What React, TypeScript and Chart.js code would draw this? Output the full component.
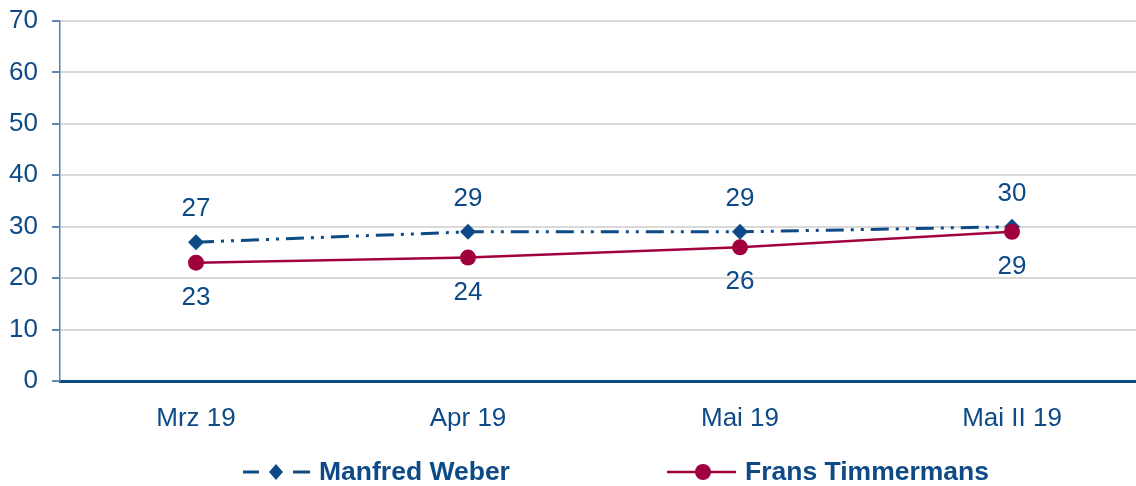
import React, { useEffect, useRef } from "react";
import { Chart, registerables } from "chart.js";

Chart.register(...registerables);

const categories = ["Mrz 19", "Apr 19", "Mai 19", "Mai II 19"];
const weberValues = [27, 29, 29, 30];
const timmermansValues = [23, 24, 26, 29];
const seriesNames = ["Manfred Weber", "Frans Timmermans"];
const yTicks = [0, 10, 20, 30, 40, 50, 60, 70];

const BLUE = "#0d4a86";
const RED = "#a1003f";
const FONT = "Arial, 'Liberation Sans', sans-serif";

const labelPlugin = {
  id: "valueLabels",
  afterDatasetsDraw(chart: any) {
    const ctx = chart.ctx;
    ctx.save();
    ctx.font = `26px ${FONT}`;
    ctx.fillStyle = BLUE;
    ctx.textAlign = "center";
    ctx.textBaseline = "middle";
    chart.data.datasets.forEach((ds: any, i: number) => {
      const meta = chart.getDatasetMeta(i);
      meta.data.forEach((pt: any, j: number) => {
        const off = i === 0 ? -33 : 35;
        ctx.fillText(String(ds.data[j]), pt.x, pt.y + off);
      });
    });
    ctx.restore();
  },
};

const legendPlugin = {
  id: "customLegend",
  afterDraw(chart: any) {
    const ctx = chart.ctx;
    const y = 472;
    ctx.save();
    // Weber
    ctx.strokeStyle = BLUE;
    ctx.lineWidth = 3;
    ctx.beginPath();
    ctx.moveTo(243, y);
    ctx.lineTo(259, y);
    ctx.moveTo(293, y);
    ctx.lineTo(310, y);
    ctx.stroke();
    ctx.fillStyle = BLUE;
    ctx.beginPath();
    ctx.moveTo(276, y - 8);
    ctx.lineTo(283, y);
    ctx.lineTo(276, y + 8);
    ctx.lineTo(269, y);
    ctx.closePath();
    ctx.fill();
    // Timmermans
    ctx.strokeStyle = RED;
    ctx.lineWidth = 2.5;
    ctx.beginPath();
    ctx.moveTo(667, y);
    ctx.lineTo(736, y);
    ctx.stroke();
    ctx.fillStyle = RED;
    ctx.beginPath();
    ctx.arc(703, y, 8, 0, Math.PI * 2);
    ctx.fill();
    // text
    ctx.font = `bold 26.5px ${FONT}`;
    ctx.fillStyle = BLUE;
    ctx.textAlign = "left";
    ctx.textBaseline = "middle";
    ctx.fillText(seriesNames[0], 319, y + 1);
    ctx.fillText(seriesNames[1], 745, y + 1);
    ctx.restore();
  },
};

export default function App() {
  const ref = useRef<HTMLCanvasElement>(null);
  useEffect(() => {
    if (!ref.current) return;
    const chart = new Chart(ref.current, {
      type: "line",
      data: {
        labels: categories,
        datasets: [
          {
            label: seriesNames[0],
            data: weberValues,
            borderColor: BLUE,
            backgroundColor: BLUE,
            borderWidth: 3,
            borderDash: [18, 7, 3, 7, 3, 7],
            pointStyle: "rectRot",
            pointRadius: 8,
            pointBorderWidth: 0,
            order: 1,
          },
          {
            label: seriesNames[1],
            data: timmermansValues,
            borderColor: RED,
            backgroundColor: RED,
            borderWidth: 2.5,
            pointStyle: "circle",
            pointRadius: 8,
            pointBorderWidth: 0,
            order: 0,
          },
        ],
      },
      options: {
        animation: false,
        responsive: false,
        maintainAspectRatio: false,
        layout: { padding: { top: 21, right: 0, left: 0, bottom: 0 } },
        plugins: {
          legend: { display: false },
          tooltip: { enabled: false },
        },
        scales: {
          x: {
            offset: true,
            grid: { display: false },
            border: { display: true, color: BLUE, width: 3 },
            ticks: {
              color: BLUE,
              font: { family: FONT, size: 26 },
              padding: 14,
              maxRotation: 0,
            },
            afterFit(scale: any) {
              scale.height = 105;
            },
          },
          y: {
            min: 0,
            max: 70,
            afterBuildTicks(scale: any) {
              scale.ticks = yTicks.map((v) => ({ value: v }));
            },
            grid: {
              color: "#d9d9d9",
              lineWidth: 2,
              tickColor: "#2f5f92",
              tickLength: 8,
              tickWidth: 1.5,
            },
            border: { display: true, color: "#5b7fa8", width: 1.5 },
            ticks: {
              color: BLUE,
              font: { family: FONT, size: 26 },
              padding: 14,
            },
            afterFit(scale: any) {
              scale.width = 60;
              scale.paddingTop = 0;
              scale.paddingBottom = 0;
            },
          },
        },
      },
      plugins: [labelPlugin, legendPlugin],
    });
    return () => chart.destroy();
  }, []);
  return (
    <div style={{ position: "absolute", left: 0, top: 0, width: 1136, height: 486, overflow: "hidden", background: "#fff" }}>
      <canvas ref={ref} width={1156} height={486} style={{ width: 1156, height: 486 }} />
    </div>
  );
}
